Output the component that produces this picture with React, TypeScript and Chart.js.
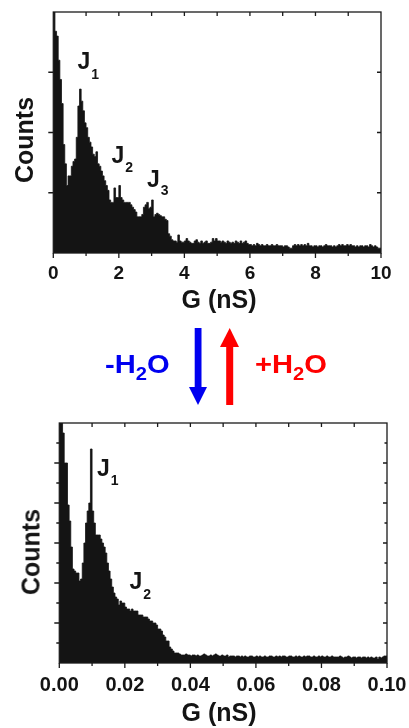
import React, { useEffect, useRef } from 'react';
import { Chart, registerables } from 'chart.js';

Chart.register(...registerables);

const FONT = '"Liberation Sans", Arial, Helvetica, sans-serif';
const INK = '#141414';
const BLUE = '#0000f0';
const RED = '#ff0000';

// ---------- top histogram (G in nS, bin width 0.05 nS) ----------
const TOP_BIN_WIDTH = 0.05;
const TOP_COUNTS = [
  100, 100, 92, 90, 80, 72, 62, 45, 37, 28,
  32, 32, 36, 38, 39, 48, 61, 68, 63, 59,
  54, 52, 48, 46, 44, 41, 40, 42, 37, 36,
  34, 32, 30, 28, 26, 22, 21, 21, 27, 23,
  23, 28, 23, 22, 21, 21, 21, 21, 20, 19,
  18, 17, 15, 15, 15, 16, 19, 20, 21, 18.5,
  19, 22, 15, 16, 16.5, 16, 15.5, 15, 15, 14,
  13.5, 8, 7, 5.5, 5, 5, 4.5, 7.5, 5, 4.5,
  4.5, 5, 6, 5, 4.5, 4, 4, 5, 5.5, 4.5,
  4, 5, 4, 4.5, 5, 4, 4, 4.5, 6, 5,
  6, 5, 5, 4.5, 5, 4.5, 4, 5, 4.5, 4,
  4.5, 4, 5, 4.5, 4, 5, 4, 4.5, 5, 4,
  3.5, 3.5, 3, 3.5, 3, 4, 3.5, 3, 3.5, 3,
  3, 3.5, 3, 3, 3.5, 3, 3, 3.5, 3, 3,
  3, 2.5, 3, 3, 2.5, 2, 2, 3, 3.5, 3,
  3.5, 3, 3.5, 3, 3.5, 3, 4, 3, 3, 2.5,
  3, 3, 2.5, 3, 3, 2.5, 3, 3.5, 3, 3,
  3, 2.5, 3, 2.5, 3, 3.5, 3, 3.5, 3, 3,
  3.5, 3, 3.5, 3, 3, 2.5, 3, 2.5, 3, 3,
  2.5, 3, 3, 2.5, 3.5, 3, 2.5, 3, 2.5, 2,
];
const TOP_X_TICKS = [0, 2, 4, 6, 8, 10];
const TOP_X_LABELS = ['0', '2', '4', '6', '8', '10'];
const TOP_X_MINOR = [1, 3, 5, 7, 9];
const TOP_X_TOPSIDE = [1, 2, 3, 4, 5, 6, 7, 8, 9];
const TOP_Y_MAJOR = [25, 50, 75];
const TOP_Y_MINOR: number[] = [];
const TOP_Y_MAX = 100;

// ---------- bottom histogram (G in nS, bin width 0.0005 nS) ----------
const BOTTOM_BIN_WIDTH = 0.0005;
const BOTTOM_COUNTS = [
  125, 125, 125, 115, 100, 100, 79, 71, 58, 47,
  46, 45, 45, 41, 42, 50, 60, 70, 76, 80,
  107, 76, 70, 64, 64, 64, 62, 60, 58, 55,
  50, 46, 42, 38, 35, 33, 32, 29, 31, 30,
  30, 28, 27, 27, 26, 27, 26, 26, 26, 24,
  24, 24, 23, 23, 23, 22, 21, 21, 20, 20,
  19, 17, 17, 16, 14, 13, 11, 11, 8, 7,
  6, 5, 5, 5, 4.5, 4, 4, 4, 4.5, 4,
  4, 3.5, 4, 4, 3.5, 4, 3.5, 3.5, 4, 4.5,
  4, 3.5, 3.5, 4, 3.5, 4, 4.5, 4, 3.5, 3.5,
  4, 3.5, 3.5, 4, 3, 3.5, 3.5, 3.5, 3, 3.5,
  3.5, 3, 3.5, 3, 3.5, 3, 3, 3.5, 3.5, 3,
  3, 3.5, 3, 3.5, 3, 3, 3.5, 3, 3, 3.5,
  3.5, 3, 3, 3.5, 3, 3.5, 3, 3.5, 3.5, 3,
  3, 3.5, 3.5, 3, 3, 3.5, 3, 3.5, 3, 3,
  3.5, 3, 3.5, 3.5, 3, 3, 3.5, 3, 3, 3.5,
  3, 3.5, 3, 3, 3.5, 3, 3, 3.5, 3, 3,
  3, 3, 3.5, 3, 2.5, 3, 3, 3.5, 3, 2.5,
  3, 3, 2.5, 3, 3, 2.5, 3, 3, 2.5, 3,
  2.5, 3, 2.5, 2.5, 3, 2, 3, 2.5, 3, 3.5,
];
const BOTTOM_X_TICKS = [0, 0.02, 0.04, 0.06, 0.08, 0.1];
const BOTTOM_X_LABELS = ['0.00', '0.02', '0.04', '0.06', '0.08', '0.10'];
const BOTTOM_X_MINOR = [0.01, 0.03, 0.05, 0.07, 0.09];
const BOTTOM_X_TOPSIDE = [0.01, 0.02, 0.03, 0.04, 0.05, 0.06, 0.07, 0.08, 0.09];
const BOTTOM_Y_MAJOR = [20, 40, 60, 80, 100];
const BOTTOM_Y_MINOR = [10, 30, 50, 70, 90, 110];
const BOTTOM_Y_MAX = 120;

const X_TITLE = 'G (nS)';
const Y_TITLE = 'Counts';

// frame + tick marks drawn through the chart's own scales
const framePlugin = {
  id: 'frame',
  afterDatasetsDraw(chart: any, _args: any, opts: any) {
    const { ctx, chartArea: a, scales } = chart;
    const xs = scales.x;
    const ys = scales.y;
    ctx.save();
    ctx.strokeStyle = '#1a1a1a';
    ctx.lineWidth = 1.3;
    ctx.strokeRect(a.left, a.top, a.right - a.left, a.bottom - a.top);
    ctx.beginPath();
    const M = 5;
    const m = 3;
    for (const v of opts.xMajor) {
      const p = xs.getPixelForValue(v);
      ctx.moveTo(p, a.bottom);
      ctx.lineTo(p, a.bottom + M);
    }
    for (const v of opts.xMinor) {
      const p = xs.getPixelForValue(v);
      ctx.moveTo(p, a.bottom);
      ctx.lineTo(p, a.bottom + m);
    }
    for (const v of opts.xTop) {
      const p = xs.getPixelForValue(v);
      ctx.moveTo(p, a.top);
      ctx.lineTo(p, a.top + 4);
    }
    for (const v of opts.yMajor) {
      const p = ys.getPixelForValue(v);
      ctx.moveTo(a.left - M, p);
      ctx.lineTo(a.left, p);
      ctx.moveTo(a.right, p);
      ctx.lineTo(a.right - 4, p);
    }
    for (const v of opts.yMinor) {
      const p = ys.getPixelForValue(v);
      ctx.moveTo(a.left - m, p);
      ctx.lineTo(a.left, p);
      ctx.moveTo(a.right, p);
      ctx.lineTo(a.right - 2.5, p);
    }
    ctx.stroke();
    ctx.restore();
  },
};

function makeConfig(p: any) {
  // histogram as a filled step outline: each bin holds its count from its left edge to the next
  const data = p.counts.map((c: number, i: number) => ({ x: i * p.binWidth, y: c }));
  data.push({ x: p.counts.length * p.binWidth, y: p.counts[p.counts.length - 1] });
  return {
    type: 'line',
    data: {
      datasets: [
        {
          data,
          stepped: 'after',
          fill: 'origin',
          backgroundColor: INK,
          borderColor: INK,
          borderWidth: 0.8,
          pointRadius: 0,
          tension: 0,
        },
      ],
    },
    plugins: [framePlugin],
    options: {
      responsive: false,
      maintainAspectRatio: false,
      animation: false,
      devicePixelRatio: 1,
      events: [],
      layout: { padding: { ...p.target } },
      scales: {
        x: {
          type: 'linear',
          min: p.xMin,
          max: p.xMax,
          offset: false,
          grid: { display: false, drawTicks: false, tickLength: 0 },
          border: { display: false },
          afterBuildTicks: (s: any) => {
            s.ticks = p.xTicks.map((v: number) => ({ value: v }));
          },
          ticks: {
            autoSkip: false,
            maxRotation: 0,
            minRotation: 0,
            padding: p.tickPad,
            color: INK,
            font: { family: FONT, size: p.tickSize, weight: 'bold', lineHeight: 1.2 },
            callback: (_v: any, i: number) => p.xLabels[i],
          },
          title: { display: false },
        },
        y: { display: false, min: 0, max: p.yMax },
      },
      plugins: {
        legend: { display: false },
        tooltip: { enabled: false },
        frame: p.frame,
      },
    },
    target: p.area,
  };
}

function HistCanvas({ config, top, height }: any) {
  const ref = useRef<HTMLCanvasElement | null>(null);
  useEffect(() => {
    const { target, ...cfg } = config;
    const chart: any = new Chart(ref.current as HTMLCanvasElement, cfg);
    // nudge the layout padding so the plot area lands exactly on the target box
    for (let k = 0; k < 3; k++) {
      const a = chart.chartArea;
      const pad = { ...chart.config.options.layout.padding };
      pad.left += target.left - a.left;
      pad.top += target.top - a.top;
      pad.right += a.right - target.right;
      pad.bottom += a.bottom - target.bottom;
      chart.config.options.layout.padding = pad;
      chart.update();
    }
    return () => chart.destroy();
  }, []);
  return (
    <canvas
      ref={ref}
      width={450}
      height={height}
      style={{ position: 'absolute', left: 0, top, width: 450, height, display: 'block' }}
    />
  );
}

function JLabel({ left, baseline, sub, size = 23, subSize = 14, subDrop = 9 }: any) {
  return (
    <div
      style={{
        position: 'absolute',
        left,
        top: baseline - 0.8465 * size,
        fontFamily: FONT,
        fontWeight: 'bold',
        fontSize: size,
        lineHeight: 1,
        color: INK,
        whiteSpace: 'nowrap',
      }}
    >
      J
      <span style={{ fontSize: subSize, position: 'relative', top: subDrop, marginLeft: 1 }}>{sub}</span>
    </div>
  );
}

function WaterLabel({ left, baseline, sign, color }: any) {
  const size = 26;
  return (
    <div
      style={{
        position: 'absolute',
        left,
        top: baseline - 0.8465 * size,
        fontFamily: FONT,
        fontWeight: 'bold',
        fontSize: size,
        lineHeight: 1,
        color,
        whiteSpace: 'nowrap',
        transform: 'scaleX(1.12)',
        transformOrigin: 'left center',
      }}
    >
      {sign}H<span style={{ fontSize: 18, position: 'relative', top: 7 }}>2</span>O
    </div>
  );
}

function AxisTitle({ cx, cy, text, rotate, size = 25 }: any) {
  return (
    <div
      style={{
        position: 'absolute',
        left: cx,
        top: cy,
        transform: `translate(-50%, -50%)${rotate ? ' rotate(-90deg)' : ''}`,
        fontFamily: FONT,
        fontWeight: 'bold',
        fontSize: size,
        lineHeight: 1,
        color: INK,
        whiteSpace: 'nowrap',
      }}
    >
      {text}
    </div>
  );
}

export default function App() {
  const topConfig = makeConfig({
    counts: TOP_COUNTS,
    binWidth: TOP_BIN_WIDTH,
    xMin: 0,
    xMax: 10,
    xTicks: TOP_X_TICKS,
    xLabels: TOP_X_LABELS,
    yMax: TOP_Y_MAX,
    tickSize: 19,
    tickPad: 9,
    target: { left: 53, top: 12, right: 69, bottom: 30 },
    area: { left: 53.3, top: 12, right: 381, bottom: 253 },
    frame: { xMajor: TOP_X_TICKS, xMinor: TOP_X_MINOR, xTop: TOP_X_TOPSIDE, yMajor: TOP_Y_MAJOR, yMinor: TOP_Y_MINOR },
  });
  const bottomConfig = makeConfig({
    counts: BOTTOM_COUNTS,
    binWidth: BOTTOM_BIN_WIDTH,
    xMin: 0,
    xMax: 0.1,
    xTicks: BOTTOM_X_TICKS,
    xLabels: BOTTOM_X_LABELS,
    yMax: BOTTOM_Y_MAX,
    tickSize: 20,
    tickPad: 10,
    target: { left: 59.3, top: 13, right: 63, bottom: 30 },
    area: { left: 59.3, top: 13, right: 387, bottom: 253 },
    frame: {
      xMajor: BOTTOM_X_TICKS,
      xMinor: BOTTOM_X_MINOR,
      xTop: BOTTOM_X_TOPSIDE,
      yMajor: BOTTOM_Y_MAJOR,
      yMinor: BOTTOM_Y_MINOR,
    },
  });

  return (
    <div
      style={{
        position: 'absolute',
        left: 0,
        top: 0,
        width: 409,
        height: 728,
        overflow: 'hidden',
        background: '#fff',
      }}
    >
      <HistCanvas config={topConfig} top={0} height={320} />
      <HistCanvas config={bottomConfig} top={410} height={318} />

      <AxisTitle cx={24} cy={140} text={Y_TITLE} rotate />
      <AxisTitle cx={31} cy={552} text={Y_TITLE} rotate />
      <AxisTitle cx={219} cy={299} text={X_TITLE} />
      <AxisTitle cx={219} cy={712} text={X_TITLE} />

      <JLabel left={77.5} baseline={69} sub="1" subDrop={10} />
      <JLabel left={111.5} baseline={163} sub="2" />
      <JLabel left={147} baseline={187} sub="3" subDrop={8} />
      <JLabel left={97} baseline={476} sub="1" subDrop={9} />
      <JLabel left={129.5} baseline={589} sub="2" subDrop={10} />

      <WaterLabel left={105} baseline={373.3} sign="-" color={BLUE} />
      <WaterLabel left={254.5} baseline={373.3} sign="+" color={RED} />

      <svg
        width={409}
        height={728}
        style={{ position: 'absolute', left: 0, top: 0, pointerEvents: 'none' }}
      >
        <rect x={194.7} y={328} width={6.8} height={60} fill={BLUE} />
        <polygon points="189,387 207,387 198,405" fill={BLUE} />
        <rect x={226.2} y={346} width={7} height={59} fill={RED} />
        <polygon points="220,347 239,347 229.7,328" fill={RED} />
      </svg>
    </div>
  );
}
